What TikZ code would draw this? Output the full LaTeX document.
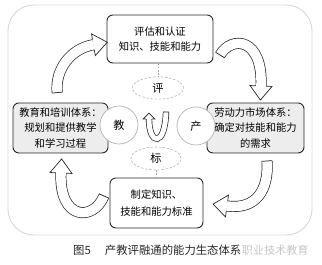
\documentclass[tikz,border=0pt]{standalone}
\usepackage{fontspec}
\newfontfamily\cjkfont{Noto Sans CJK SC}
\usetikzlibrary{shapes.geometric,calc}

\begin{document}
\begin{tikzpicture}[
  x=0.03cm, y=-0.03cm,
  box/.style     = {draw=black!85, line width=0.8pt, fill=white, rounded corners=5pt,
                    align=center, inner sep=2pt,
                    font=\cjkfont\fontsize{8.8}{13.2}\selectfont},
  sidebox/.style = {box, fill=gray!14, minimum width=#1, minimum height=1.5cm},
  ring/.style    = {circle, draw=gray!60, line width=0.6pt, fill=white,
                    minimum size=1.14cm, inner sep=0pt,
                    font=\cjkfont\fontsize{9.5}{10}\selectfont},
  oval/.style    = {ellipse, draw=gray!60, dash pattern=on 2pt off 1.5pt,
                    line width=0.5pt, fill=white,
                    minimum width=1.53cm, minimum height=0.67cm, inner sep=0pt,
                    font=\cjkfont\fontsize{9.5}{10}\selectfont},
  link/.style    = {draw=gray!70, line width=0.5pt, dash pattern=on 1.5pt off 1.2pt},
  shaft/.style   = {draw=black!85, line width=0.6pt, double=white, double distance=#1},
  rim/.style     = {draw=black!85, line width=0.6pt, line join=miter},
]
\useasboundingbox (0,0) rectangle (322,265);

%% ─── frame ────────────────────────────────────────────────────────────────
\draw[gray!30, line width=0.8pt, rounded corners=22pt] (8,5) rectangle (312,235);

%% ─── boxes ────────────────────────────────────────────────────────────────
\node[box, minimum width=3.18cm, minimum height=1.44cm] (assess) at (160,39)
  {评估和认证\\知识、技能和能力};
\node[sidebox=2.85cm] (edu) at (60.5,128)
  {教育和培训体系：\\规划和提供教学\\和学习过程};
\node[sidebox=2.91cm] (labor) at (255.5,128)
  {劳动力市场体系：\\确定对技能和能力\\的需求};
\node[box, minimum width=2.79cm, minimum height=1.5cm] (stdbox) at (156.5,203)
  {制定知识、\\[2pt]技能和能力标准};

%% ─── circles and ovals ────────────────────────────────────────────────────
\node[ring] (jiao) at (119,125) {教};
\node[ring] (chan) at (196,126) {产};
\node[oval] (ping) at (158,88) {评};
\node[oval, minimum width=1.5cm, minimum height=0.69cm] (biao) at (156,158.5) {标};

\draw[link] (ping.north |- assess.south) -- (ping.north);
\draw[link] (biao.south) -- (biao.south |- stdbox.north);

%% ─── hollow arrows: tail, two controls, end of shaft ──────────────────────
\coordinate (a1) at (57.2,92.6); \coordinate (c1) at (54.8,69.6);
\coordinate (d1) at (70.6,48.7); \coordinate (b1) at (93.4,44.7);
\coordinate (a2) at (220,55);    \coordinate (c2) at (232,35);
\coordinate (d2) at (263,38);    \coordinate (b2) at (261,86);
\coordinate (a3) at (267,161);   \coordinate (c3) at (269,190);
\coordinate (d3) at (256,210);   \coordinate (b3) at (227,206);
\coordinate (a4) at (104,196);   \coordinate (c4) at (93,222);
\coordinate (d4) at (59,220);    \coordinate (b4) at (61,173);
\coordinate (a5) at (166,112);   \coordinate (c5) at (165,148);
\coordinate (d5) at (149,145);   \coordinate (b5) at (149,119);

\foreach \p/\q/\r/\s/\w/\h/\l in {a1/c1/d1/b1/8.2pt/9.4pt/12pt,
                                  a2/c2/d2/b2/8.2pt/9.4pt/12pt,
                                  a3/c3/d3/b3/8.2pt/9.4pt/12pt,
                                  a4/c4/d4/b4/8.2pt/9.4pt/12pt,
                                  a5/c5/d5/b5/4.2pt/5pt/5pt}{
  \draw[shaft=\w] (\p) .. controls (\q) and (\r) .. (\s);
  \fill[white] ($(\s)!\h!90:(\r)$) -- ($(\s)!-\l!(\r)$) -- ($(\s)!\h!-90:(\r)$) -- cycle;
  \draw[rim] ($(\s)!\w/2+0.3pt!90:(\r)$) -- ($(\s)!\h!90:(\r)$) -- ($(\s)!-\l!(\r)$)
    -- ($(\s)!\h!-90:(\r)$) -- ($(\s)!\w/2+0.3pt!-90:(\r)$);
  \draw[rim] ($(\p)!\w/2+0.3pt!90:(\q)$) -- ($(\p)!\w/2+0.3pt!-90:(\q)$);
}

%% ─── caption ──────────────────────────────────────────────────────────────
\node[anchor=west, inner sep=0pt, text=black!85,
      font=\cjkfont\fontsize{9.7}{11}\selectfont] (cap) at (73,250)
  {图5\hspace{12pt}产教评融通的能力生态体系};
\node[anchor=west, inner sep=0pt, text=gray!45,
      font=\cjkfont\fontsize{9.5}{11}\selectfont] (wm) at (cap.east)
  {职业技术教育};

\end{tikzpicture}
\end{document}
